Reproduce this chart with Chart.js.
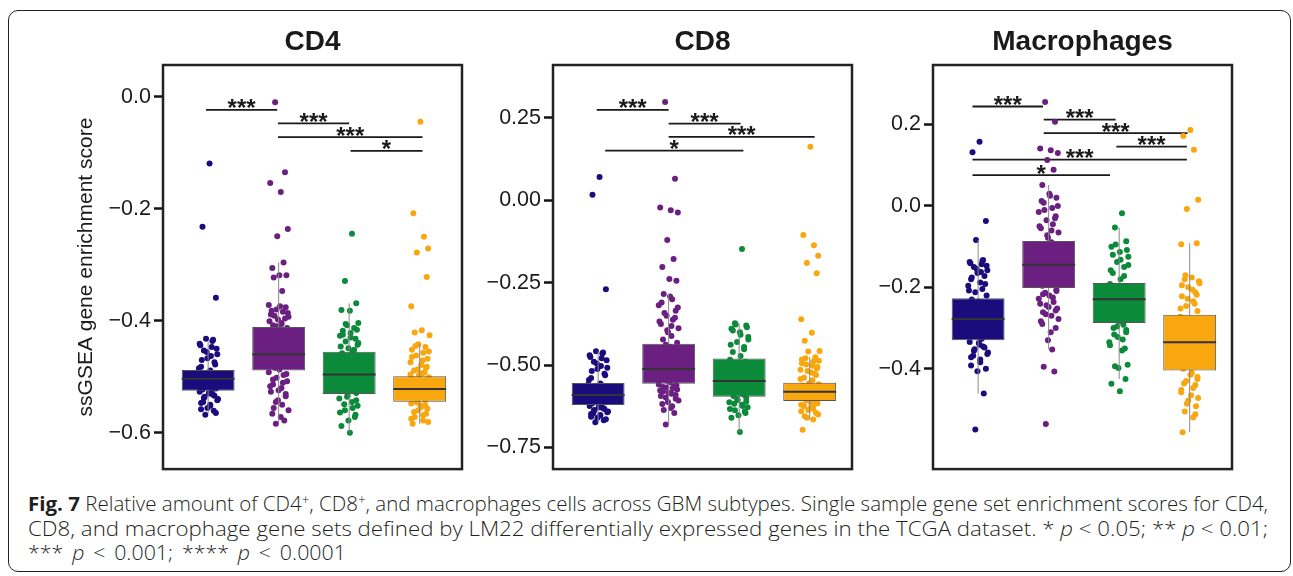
<!DOCTYPE html>
<html>
<head>
<meta charset="utf-8">
<script src="https://cdn.jsdelivr.net/npm/chart.js@4.4.1/dist/chart.umd.min.js"></script>
<style>
html, body { margin:0; padding:0; width:1293px; height:576px; overflow:hidden; background:#fff; }
#frame { position:absolute; left:8px; top:10px; width:1283px; height:562px; border:1.5px solid #222; border-radius:10px; box-sizing:border-box; }
canvas { position:absolute; }
.cap { position:absolute; left:28px; font-family:"Open Sans","Liberation Sans",sans-serif; font-weight:300; font-size:20px; line-height:20px; color:#231f20; white-space:nowrap; transform-origin:0 0; }
.cap b { font-weight:700; }
.cap sup { font-size:13px; line-height:0; vertical-align:7px; }
</style>
</head>
<body>
<div id="frame"></div>
<canvas id="c1" width="450" height="465" style="left:20px;top:20px"></canvas>
<canvas id="c2" width="400" height="465" style="left:470px;top:20px"></canvas>
<canvas id="c3" width="410" height="465" style="left:870px;top:20px"></canvas>
<div class="cap" id="l1" style="top:494px"><b>Fig. 7</b> Relative amount of CD4<sup>+</sup>, CD8<sup>+</sup>, and macrophages cells across GBM subtypes. Single sample gene set enrichment scores for CD4,</div>
<div class="cap" id="l2" style="top:519px">CD8, and macrophage gene sets defined by LM22 differentially expressed genes in the TCGA dataset. * <i>p</i> &lt; 0.05; ** <i>p</i> &lt; 0.01;</div>
<div class="cap" id="l3" style="top:543px">*** <i>p</i> &lt; 0.001; **** <i>p</i> &lt; 0.0001</div>
<script>
// ---------------- data ----------------
const subtypes = ['Classical', 'Mesenchymal', 'Neural', 'Proneural'];
const panelTitles = ['CD4', 'CD8', 'Macrophages'];
const yAxisTitle = 'ssGSEA gene enrichment score';

const cd4TickValues = [0, -0.2, -0.4, -0.6];
const cd4TickLabels = ['0.0', '\u22120.2', '\u22120.4', '\u22120.6'];
const cd8TickValues = [0.25, 0, -0.25, -0.5, -0.75];
const cd8TickLabels = ['0.25', '0.00', '\u22120.25', '\u22120.50', '\u22120.75'];
const macTickValues = [0.2, 0, -0.2, -0.4];
const macTickLabels = ['0.2', '0.0', '\u22120.2', '\u22120.4'];

// [lower whisker, Q1, median, Q3, upper whisker] per subtype
const cd4Box = [[-0.565, -0.525, -0.5035, -0.488, -0.437], [-0.581, -0.489, -0.4597, -0.411, -0.296], [-0.600, -0.531, -0.496, -0.4556, -0.369], [-0.584, -0.5446, -0.522, -0.499, -0.442]];
const cd8Box = [[-0.673, -0.621, -0.591, -0.5545, -0.458], [-0.680, -0.5565, -0.512, -0.4355, -0.284], [-0.703, -0.596, -0.5485, -0.480, -0.373], [-0.665, -0.609, -0.581, -0.5536, -0.476]];
const macBox = [[-0.461, -0.330, -0.278, -0.2265, -0.0834], [-0.3525, -0.2015, -0.1446, -0.0859, 0.0515], [-0.425, -0.2875, -0.229, -0.1894, -0.053], [-0.5557, -0.404, -0.335, -0.2675, -0.0915]];

// per-sample scores
const cd4Classical = [-0.119, -0.232, -0.359, -0.432, -0.434, -0.441, -0.447, -0.453, -0.460, -0.467, -0.474, -0.482, -0.489, -0.491, -0.493, -0.495, -0.497, -0.499, -0.500, -0.502, -0.503, -0.504, -0.505, -0.507, -0.508, -0.510, -0.512, -0.514, -0.516, -0.518, -0.519, -0.521, -0.523, -0.524, -0.527, -0.530, -0.534, -0.538, -0.542, -0.547, -0.552, -0.556, -0.561, -0.568,
  -0.436, -0.444, -0.450, -0.456, -0.463, -0.470, -0.478, -0.485, -0.529, -0.532, -0.536, -0.540, -0.545, -0.550, -0.558, -0.565];
const cd4Mesenchymal = [-0.010, -0.135, -0.154, -0.170, -0.236, -0.249, -0.296, -0.306, -0.319, -0.319, -0.323, -0.347, -0.372, -0.376, -0.380, -0.384, -0.389, -0.393, -0.398, -0.404, -0.408, -0.413, -0.418, -0.423, -0.428, -0.433, -0.438, -0.443, -0.448, -0.453, -0.458, -0.462, -0.466, -0.470, -0.474, -0.478, -0.481, -0.484, -0.487, -0.492, -0.497, -0.502, -0.508, -0.514, -0.520, -0.527, -0.535, -0.542, -0.550, -0.556, -0.578, -0.584,
  -0.374, -0.382, -0.386, -0.391, -0.396, -0.401, -0.406, -0.410, -0.495, -0.505, -0.511, -0.517, -0.524, -0.531, -0.545, -0.560, -0.566, -0.572];
const cd4Neural = [-0.2445, -0.329, -0.369, -0.381, -0.382, -0.404, -0.408, -0.413, -0.418, -0.422, -0.427, -0.432, -0.437, -0.443, -0.449, -0.454, -0.458, -0.468, -0.473, -0.479, -0.485, -0.490, -0.495, -0.500, -0.512, -0.518, -0.524, -0.529, -0.534, -0.539, -0.545, -0.552, -0.560, -0.568, -0.588, -0.600,
  -0.406, -0.416, -0.425, -0.430, -0.440, -0.446, -0.452, -0.536, -0.542, -0.549, -0.556, -0.564, -0.572, -0.578];
const cd4Proneural = [-0.0445, -0.208, -0.250, -0.271, -0.278, -0.322, -0.374, -0.417, -0.421, -0.426, -0.442, -0.447, -0.452, -0.457, -0.462, -0.468, -0.474, -0.479, -0.484, -0.489, -0.494, -0.497, -0.501, -0.504, -0.507, -0.510, -0.513, -0.516, -0.519, -0.521, -0.524, -0.527, -0.530, -0.533, -0.536, -0.539, -0.542, -0.548, -0.554, -0.560, -0.566, -0.572, -0.578, -0.584,
  -0.445, -0.455, -0.465, -0.471, -0.482, -0.487, -0.492, -0.496, -0.551, -0.557, -0.563, -0.569, -0.575, -0.581, -0.546, -0.552];

const cd8Classical = [0.0705, 0.017, -0.270, -0.458, -0.462, -0.470, -0.479, -0.490, -0.508, -0.512, -0.526, -0.539, -0.556, -0.559, -0.562, -0.565, -0.568, -0.571, -0.574, -0.577, -0.580, -0.583, -0.586, -0.589, -0.592, -0.595, -0.598, -0.601, -0.604, -0.607, -0.610, -0.613, -0.616, -0.619, -0.624, -0.628, -0.633, -0.638, -0.643, -0.648, -0.653, -0.660, -0.667, -0.673,
  -0.465, -0.475, -0.485, -0.495, -0.503, -0.518, -0.531, -0.545, -0.626, -0.631, -0.636, -0.641, -0.646, -0.651, -0.657, -0.664];
const cd8Mesenchymal = [0.2985, 0.0655, -0.022, -0.030, -0.037, -0.120, -0.178, -0.202, -0.239, -0.244, -0.284, -0.300, -0.318, -0.335, -0.350, -0.362, -0.375, -0.388, -0.400, -0.412, -0.422, -0.432, -0.438, -0.444, -0.450, -0.457, -0.464, -0.471, -0.478, -0.485, -0.492, -0.499, -0.506, -0.513, -0.520, -0.528, -0.536, -0.544, -0.552, -0.559, -0.563, -0.568, -0.574, -0.580, -0.587, -0.594, -0.602, -0.612, -0.625, -0.636, -0.645, -0.680,
  -0.292, -0.310, -0.325, -0.342, -0.356, -0.368, -0.381, -0.394, -0.561, -0.566, -0.571, -0.577, -0.584, -0.591, -0.598, -0.607, -0.618, -0.630];
const cd8Neural = [-0.148, -0.373, -0.380, -0.390, -0.400, -0.415, -0.430, -0.445, -0.460, -0.472, -0.484, -0.490, -0.497, -0.504, -0.511, -0.518, -0.525, -0.532, -0.540, -0.548, -0.555, -0.562, -0.569, -0.576, -0.583, -0.589, -0.594, -0.600, -0.606, -0.613, -0.620, -0.628, -0.637, -0.645, -0.660, -0.703,
  -0.377, -0.385, -0.395, -0.408, -0.422, -0.438, -0.452, -0.603, -0.610, -0.617, -0.624, -0.633, -0.641, -0.652];
const cd8Proneural = [0.163, -0.105, -0.136, -0.168, -0.190, -0.221, -0.361, -0.402, -0.426, -0.457, -0.459, -0.476, -0.483, -0.490, -0.498, -0.506, -0.514, -0.522, -0.530, -0.538, -0.546, -0.555, -0.558, -0.562, -0.566, -0.570, -0.573, -0.577, -0.580, -0.583, -0.587, -0.591, -0.595, -0.599, -0.603, -0.607, -0.613, -0.620, -0.628, -0.636, -0.645, -0.655, -0.665, -0.696,
  -0.479, -0.487, -0.494, -0.502, -0.510, -0.518, -0.526, -0.542, -0.611, -0.616, -0.624, -0.632, -0.640, -0.650, -0.660, -0.617];

const macClassical = [0.1575, 0.132, -0.037, -0.0834, -0.133, -0.138, -0.143, -0.150, -0.158, -0.165, -0.172, -0.180, -0.188, -0.196, -0.204, -0.212, -0.220, -0.230, -0.236, -0.242, -0.248, -0.254, -0.260, -0.266, -0.272, -0.278, -0.284, -0.290, -0.296, -0.302, -0.308, -0.314, -0.320, -0.326, -0.334, -0.341, -0.348, -0.356, -0.364, -0.372, -0.384, -0.406, -0.461, -0.549,
  -0.135, -0.141, -0.147, -0.155, -0.162, -0.176, -0.192, -0.208, -0.337, -0.345, -0.352, -0.360, -0.368, -0.377, -0.392, -0.400];
const macMesenchymal = [0.2555, 0.207, 0.141, 0.137, 0.130, 0.113, 0.089, 0.0515, 0.030, 0.020, 0.008, -0.005, -0.015, -0.025, -0.035, -0.045, -0.055, -0.065, -0.078, -0.089, -0.095, -0.101, -0.107, -0.113, -0.119, -0.125, -0.131, -0.138, -0.145, -0.152, -0.159, -0.166, -0.173, -0.180, -0.188, -0.196, -0.206, -0.213, -0.220, -0.228, -0.236, -0.244, -0.252, -0.261, -0.270, -0.283, -0.300, -0.330, -0.3525, -0.395, -0.407, -0.536,
  0.025, 0.012, 0.000, -0.010, -0.030, -0.050, -0.060, -0.072, -0.209, -0.217, -0.225, -0.240, -0.248, -0.257, -0.266, -0.278, -0.290, -0.310];
const macNeural = [-0.018, -0.053, -0.087, -0.100, -0.113, -0.125, -0.138, -0.150, -0.165, -0.180, -0.192, -0.198, -0.204, -0.210, -0.216, -0.222, -0.228, -0.235, -0.242, -0.249, -0.256, -0.263, -0.270, -0.277, -0.284, -0.292, -0.300, -0.310, -0.322, -0.335, -0.355, -0.390, -0.394, -0.425, -0.437, -0.455,
  -0.095, -0.108, -0.120, -0.132, -0.145, -0.158, -0.172, -0.296, -0.305, -0.316, -0.328, -0.342, -0.350, -0.398];
const macProneural = [0.1865, 0.172, 0.138, 0.0154, -0.0072, -0.0915, -0.094, -0.176, -0.180, -0.190, -0.200, -0.212, -0.222, -0.234, -0.246, -0.258, -0.272, -0.280, -0.288, -0.296, -0.304, -0.312, -0.320, -0.328, -0.336, -0.344, -0.352, -0.360, -0.368, -0.376, -0.384, -0.392, -0.400, -0.410, -0.420, -0.430, -0.440, -0.452, -0.465, -0.478, -0.492, -0.505, -0.520, -0.556,
  -0.170, -0.185, -0.195, -0.206, -0.218, -0.228, -0.240, -0.252, -0.415, -0.425, -0.436, -0.447, -0.458, -0.472, -0.486, -0.512];

// horizontal jitter of each sample (in category units)
const jitClassical = [0.02,-0.08,0.11,-0.03,0.07,-0.12,0.05,-0.06,0.13,-0.01, 0.09,-0.10,0.03,-0.14,0.06,-0.04,0.12,-0.09,0.01,0.08, -0.11,0.04,-0.02,0.14,-0.07,0.10,-0.05,0.00,-0.13,0.07, -0.03,0.11,-0.08,0.05,-0.12,0.02,0.09,-0.06,0.13,-0.10, 0.03,-0.01,0.08,-0.04,
  0.06,-0.11,0.12,-0.02,0.04,-0.09,0.10,-0.13,0.01,0.07,-0.05,0.14,-0.07,0.03,-0.10,0.11];
const jitMesenchymal = [-0.05,0.09,-0.12,0.03,0.13,-0.02,0.07,-0.09,0.01,0.11, -0.07,0.05,-0.14,0.10,-0.03,0.06,-0.11,0.14,-0.01,0.04, -0.08,0.12,-0.04,0.02,-0.13,0.08,0.00,-0.10,0.13,-0.06, 0.03,-0.12,0.09,-0.02,0.06,-0.09,0.11,-0.05,0.01,-0.14, 0.07,-0.03,0.12,-0.08,0.04,-0.11,0.10,-0.01,0.05,-0.07, 0.08,-0.04,
  0.02,-0.10,0.13,-0.06,0.09,-0.13,0.04,-0.02,0.11,-0.08,0.06,-0.12,0.00,0.10,-0.04,0.14,-0.09,0.03];
const jitNeural = [0.04,-0.06,0.10,-0.11,0.01,0.13,-0.03,0.07,-0.09,0.02, -0.13,0.09,-0.05,0.12,-0.01,0.05,-0.10,0.11,-0.07,0.03, 0.14,-0.04,0.08,-0.12,0.00,0.06,-0.08,0.10,-0.02,-0.14, 0.04,0.12,-0.06,0.09,-0.11,0.01,
  -0.05,0.11,-0.09,0.02,0.13,-0.12,0.07,-0.03,0.10,-0.07,0.05,-0.13,0.08,-0.01];
const jitProneural = [0.01,-0.09,0.06,0.12,-0.04,0.10,-0.12,0.03,-0.07,0.14, -0.02,0.08,-0.11,0.05,-0.05,0.11,-0.13,0.02,0.09,-0.08, 0.04,-0.01,0.13,-0.10,0.07,-0.06,0.00,0.12,-0.03,0.06, -0.14,0.10,-0.09,0.03,0.11,-0.05,0.08,-0.12,0.02,-0.02, 0.09,-0.07,0.05,-0.10,
  -0.06,0.13,-0.11,0.04,0.10,-0.03,0.07,-0.13,0.01,0.11,-0.08,0.05,-0.12,0.12,-0.04,0.08];

// significance brackets: [from subtype pos, to subtype pos, y, label]
const cd4Brackets = [[0.97, 1.98, -0.0235, '***'], [1.99, 3.0, -0.0474, '***'], [1.99, 4.04, -0.072, '***'], [3.02, 4.04, -0.0965, '*']];
const cd8Brackets = [[0.98, 2.0, 0.2747, '***'], [2.0, 3.02, 0.233, '***'], [2.0, 4.07, 0.1926, '***'], [1.1, 3.06, 0.151, '*']];
const macBrackets = [[0.92, 1.92, 0.2443, '***'], [1.93, 2.95, 0.212, '***'], [1.93, 3.97, 0.179, '***'], [2.96, 3.96, 0.146, '***'], [0.92, 3.96, 0.114, '***'], [0.92, 2.87, 0.0756, '*']];

// ---------------- styles ----------------
const groupColors = ['#1b0c7e', '#6a1f81', '#0b8a3a', '#f9a70f'];
const jitter = [jitClassical, jitMesenchymal, jitNeural, jitProneural];
const FONT = '"Liberation Sans", Arial, Helvetica, sans-serif';
Chart.defaults.font.family = FONT;

const framePlugin = {
  id: 'panelFrame',
  afterDraw(chart) {
    const { ctx, chartArea: a } = chart;
    ctx.save();
    ctx.strokeStyle = '#222';
    ctx.lineWidth = 2.5;
    ctx.strokeRect(a.left, a.top, a.right - a.left, a.bottom - a.top);
    ctx.restore();
  }
};

function starPlugin(brackets) {
  return {
    id: 'sigStars',
    afterDatasetsDraw(chart) {
      const { ctx } = chart;
      const xs = chart.scales.x, ys = chart.scales.y;
      ctx.save();
      ctx.fillStyle = '#1a1a1a';
      ctx.font = 'bold 24px ' + FONT;
      ctx.textAlign = 'center';
      ctx.textBaseline = 'alphabetic';
      brackets.forEach(b => {
        const px = (xs.getPixelForValue(b[0]) + xs.getPixelForValue(b[1])) / 2;
        const py = ys.getPixelForValue(b[2]) + 6.5;
        ctx.fillText(b[3], px, py);
      });
      ctx.restore();
    }
  };
}

function buildPanel(id, title, box, groups, brackets, tickValues, tickLabels, yMin, yMax, axisWidth, padRight, padBottom, showYTitle) {
  const med = [], whisk = [], br = [];
  box.forEach((b, i) => {
    const x = i + 1;
    med.push({ x: x - 0.375, y: b[2] }, { x: x + 0.375, y: b[2] }, { x: x + 0.375, y: null });
    whisk.push({ x: x, y: b[0] }, { x: x, y: b[4] }, { x: x, y: null });
  });
  brackets.forEach(b => br.push({ x: b[0], y: b[2] }, { x: b[1], y: b[2] }, { x: b[1], y: null }));

  const datasets = [];
  datasets.push({ type: 'line', label: 'median', data: med, borderColor: '#333', borderWidth: 2, pointRadius: 0, fill: false, spanGaps: false, order: 0 });
  datasets.push({ type: 'bar', label: 'IQR', data: box.map((b, i) => ({ x: i + 1, y: [b[1], b[3]] })), backgroundColor: groupColors, borderColor: '#555', borderWidth: 1, borderSkipped: false, barPercentage: 0.75, categoryPercentage: 1, order: 1 });
  datasets.push({ type: 'line', label: 'whiskers', data: whisk, borderColor: '#888', borderWidth: 1, pointRadius: 0, fill: false, spanGaps: false, order: 2 });
  groups.forEach((vals, i) => datasets.push({
    type: 'scatter', label: subtypes[i],
    data: vals.map((v, k) => ({ x: i + 1 + jitter[i][k % jitter[i].length], y: v })),
    backgroundColor: groupColors[i], borderWidth: 0, pointRadius: 3, order: 3
  }));
  datasets.push({ type: 'line', label: 'brackets', data: br, borderColor: '#1a1a1a', borderWidth: 1.8, pointRadius: 0, fill: false, spanGaps: false, order: 4 });

  return new Chart(document.getElementById(id), {
    type: 'bar',
    data: { datasets },
    options: {
      responsive: false, animation: false, devicePixelRatio: 1, events: [],
      layout: { padding: { left: 0, top: 0, right: padRight, bottom: padBottom } },
      plugins: {
        legend: { display: false }, tooltip: { enabled: false },
        title: { display: true, text: title, fullSize: false, color: '#1a1a1a', font: { size: 28, weight: 'bold', lineHeight: 1.2 }, padding: { top: 5.4, bottom: 6 } }
      },
      scales: {
        x: { type: 'linear', min: 0.36, max: 4.6, offset: false, display: false,
             afterBuildTicks: ax => { ax.ticks = [1, 2, 3, 4].map(v => ({ value: v })); } },
        y: { type: 'linear', min: yMin, max: yMax, beginAtZero: false,
             afterBuildTicks: ax => { ax.ticks = tickValues.map(v => ({ value: v })); },
             afterFit: s => { s.width = axisWidth; },
             ticks: { callback: (v, i) => tickLabels[i], color: '#1a1a1a', font: { size: 21.5 }, padding: 3 },
             grid: { display: true, drawOnChartArea: false, drawTicks: true, tickLength: 9, tickWidth: 2.5, tickColor: '#111' },
             border: { display: false },
             title: { display: showYTitle, text: yAxisTitle, color: '#1a1a1a', font: { size: 21, lineHeight: 1.2 }, padding: { top: 53.4, bottom: 0 } } }
      }
    },
    plugins: [framePlugin, starPlugin(brackets)]
  });
}

buildPanel('c1', panelTitles[0], cd4Box, [cd4Classical, cd4Mesenchymal, cd4Neural, cd4Proneural], cd4Brackets, cd4TickValues, cd4TickLabels, -0.665, 0.0567, 143, 8, 9, true);
buildPanel('c2', panelTitles[1], cd8Box, [cd8Classical, cd8Mesenchymal, cd8Neural, cd8Proneural], cd8Brackets, cd8TickValues, cd8TickLabels, -0.8155, 0.4107, 83, 18, 8, false);
buildPanel('c3', panelTitles[2], macBox, [macClassical, macMesenchymal, macNeural, macProneural], macBrackets, macTickValues, macTickLabels, -0.6465, 0.3463, 63, 48, 8, false);

// caption: fit line widths to the printed column
(function fitCaption() {
  const l1 = document.getElementById('l1'), l2 = document.getElementById('l2'), l3 = document.getElementById('l3');
  const s1 = 1240 / l1.getBoundingClientRect().width;
  const s2 = 1240 / l2.getBoundingClientRect().width;
  const s3 = (s1 + s2) / 2;
  l1.style.transform = 'scaleX(' + s1 + ')';
  l2.style.transform = 'scaleX(' + s2 + ')';
  const w3 = l3.getBoundingClientRect().width;
  const gaps = 7;
  const extra = (318 / s3 - w3) / gaps;
  if (extra > 0) l3.style.wordSpacing = extra + 'px';
  l3.style.transform = 'scaleX(' + s3 + ')';
})();
</script>
</body>
</html>
